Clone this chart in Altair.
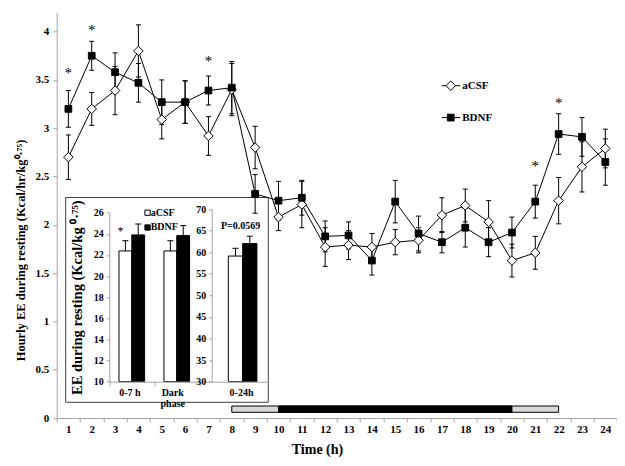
import altair as alt
import pandas as pd

# ---------------- data ----------------
hours = list(range(1, 25))
acsf_mean = [2.70, 3.20, 3.39, 3.80, 3.09, 3.27, 2.92, 3.40, 2.80, 2.08, 2.21, 1.77,
             1.79, 1.77, 1.82, 1.84, 2.10, 2.20, 2.03, 1.63, 1.71, 2.25, 2.60, 2.79]
acsf_se = [0.23, 0.17, 0.25, 0.27, 0.20, 0.22, 0.20, 0.27, 0.22, 0.14, 0.24, 0.20,
           0.15, 0.14, 0.13, 0.13, 0.18, 0.17, 0.22, 0.17, 0.17, 0.24, 0.26, 0.20]
bdnf_mean = [3.20, 3.75, 3.58, 3.47, 3.27, 3.27, 3.39, 3.42, 2.32, 2.25, 2.28, 1.88,
             1.89, 1.63, 2.24, 1.91, 1.82, 1.97, 1.82, 1.92, 2.24, 2.94, 2.91, 2.65]
bdnf_se = [0.19, 0.15, 0.20, 0.20, 0.23, 0.22, 0.15, 0.27, 0.20, 0.20, 0.18, 0.16,
           0.14, 0.15, 0.22, 0.18, 0.11, 0.20, 0.15, 0.16, 0.17, 0.21, 0.20, 0.24]
star_hours = [1, 2, 7, 21, 22]
star_levels = [3.60, 4.05, 3.73, 2.64, 3.29]

light_period = [8, 22]
dark_period = [10, 20]

inset_groups = ["0-7 h", "Dark\nphase"]
inset_acsf = [22.38, 22.38]
inset_acsf_se = [0.97, 0.97]
inset_bdnf = [23.90, 23.83]
inset_bdnf_se = [1.03, 0.95]
total_group = "0-24h"
total_acsf, total_acsf_se = 59.1, 1.8
total_bdnf, total_bdnf_se = 62.0, 1.7
p_text = "P=0.0569"

# ---------------- layout ----------------
FONT = "Liberation Serif"
AX = "#a6a6a6"
W, H = 560.3, 405.7
OX, OY = 56.7, 12.3          # page position of plot origin
PAD = {"left": OX - 8, "top": OY - 8, "right": 0, "bottom": 450 - (OY - 8) - H}


def px(v):
    return v - OX


def py(v):
    return v - OY


def sc(domain, rng):
    return alt.Scale(domain=domain, range=rng, nice=False, zero=False)


MX = sc([0.5, 24.5], [0, W])
MY = sc([0, 4.2], [H, 0])
LX = sc([0, 2.276], [px(109.3), px(211.7)])
LY = sc([10, 26], [py(381.7), py(212.7)])
RX = sc([0, 0.91], [px(211.7), px(268.3)])
RY = sc([30, 70], [py(381.7), py(209.0)])

rows = []
for g, m, s in (("aCSF", acsf_mean, acsf_se), ("BDNF", bdnf_mean, bdnf_se)):
    for h, mv, sv in zip(hours, m, s):
        rows.append(dict(hour=h, group=g, mean=mv, lo=mv - sv, hi=mv + sv))
main = pd.DataFrame(rows)
caps = pd.concat([main.assign(cap=main["lo"]), main.assign(cap=main["hi"])])

is_acsf = "datum.group == 'aCSF'"
fill_c = alt.condition(is_acsf, alt.value("white"), alt.value("black"))

y_axis = alt.Axis(orient="left", values=[i * 0.5 for i in range(9)], format="~g",
                  tickSize=4, domainColor=AX, tickColor=AX, grid=False,
                  labelFont=FONT, labelFontSize=11, labelFontWeight="bold",
                  labelColor="black", labelPadding=4,
                  title="Hourly EE during resting (Kcal/hr/kg⁰·⁷⁵)",
                  titleFont=FONT, titleFontSize=12.5, titleFontWeight="bold",
                  titleColor="black", titleAngle=270, titleAlign="center",
                  titleBaseline="middle", titleX=20 - OX, titleY=250 - OY)
xtick_axis = alt.Axis(orient="bottom", values=[i + 0.5 for i in range(25)],
                      labels=False, tickSize=4, domainColor=AX, tickColor=AX,
                      grid=False, title=None)
xlab_axis = alt.Axis(orient="bottom", values=hours, ticks=False, domain=False,
                     grid=False, labelFont=FONT, labelFontSize=11,
                     labelFontWeight="bold", labelColor="black", labelPadding=5,
                     title="Time (h)", titleFont=FONT, titleFontSize=14,
                     titleFontWeight="bold", titleColor="black",
                     titleX=317 - OX, titleY=35.5, titleAlign="center",
                     titleBaseline="alphabetic")

box = alt.Chart(pd.DataFrame({"k": [0]})).mark_rect(
    fill="white", stroke="#404040", strokeWidth=1).encode(
    x=alt.value(px(65.7)), x2=alt.value(px(268.3)),
    y=alt.value(py(197.5)), y2=alt.value(py(402.3)))

err = alt.Chart(main).mark_rule(color="black", strokeWidth=1).encode(
    x=alt.X("hour:Q", scale=MX, axis=xtick_axis),
    y=alt.Y("lo:Q", scale=MY, axis=y_axis), y2="hi:Q")
cap = alt.Chart(caps).mark_tick(orient="horizontal", size=5, thickness=1,
                                color="black", opacity=1).encode(
    x=alt.X("hour:Q", scale=MX, axis=None),
    y=alt.Y("cap:Q", scale=MY, axis=None))
line = alt.Chart(main).mark_line(color="black", strokeWidth=1).encode(
    x=alt.X("hour:Q", scale=MX, axis=xlab_axis),
    y=alt.Y("mean:Q", scale=MY, axis=None), detail="group:N")
pts = alt.Chart(main).mark_point(filled=True, stroke="black", strokeWidth=1,
                                 opacity=1).encode(
    x=alt.X("hour:Q", scale=MX, axis=None),
    y=alt.Y("mean:Q", scale=MY, axis=None),
    shape=alt.condition(is_acsf, alt.value("diamond"), alt.value("square")),
    size=alt.condition(is_acsf, alt.value(90), alt.value(45)),
    fill=fill_c)

stars = alt.Chart(pd.DataFrame({"hour": star_hours, "lev": star_levels})).mark_text(
    text="*", font=FONT, fontSize=15, baseline="middle", dy=3, color="black").encode(
    x=alt.X("hour:Q", scale=MX, axis=None), y=alt.Y("lev:Q", scale=MY, axis=None))

light = alt.Chart(pd.DataFrame({"s": [light_period[0]], "e": [light_period[1]]})).mark_rect(
    fill="#d9d9d9", stroke="black", strokeWidth=1).encode(
    x=alt.X("s:Q", scale=MX, axis=None), x2="e:Q",
    y=alt.value(py(406)), y2=alt.value(py(412.3)))
dark = alt.Chart(pd.DataFrame({"s": [dark_period[0]], "e": [dark_period[1]]})).mark_rect(
    fill="black", stroke="black", strokeWidth=1).encode(
    x=alt.X("s:Q", scale=MX, axis=None), x2="e:Q",
    y=alt.value(py(406)), y2=alt.value(py(412.3)))

# main legend
leg = pd.DataFrame({"group": ["aCSF", "BDNF"], "ly": [3.44, 3.11],
                    "x0": [16.99, 16.99], "x1": [17.78, 17.78],
                    "xm": [17.38, 17.38], "xt": [17.87, 17.87]})
leg_line = alt.Chart(leg).mark_rule(color="black", strokeWidth=1).encode(
    x=alt.X("x0:Q", scale=MX, axis=None), x2="x1:Q",
    y=alt.Y("ly:Q", scale=MY, axis=None))
leg_pt = alt.Chart(leg).mark_point(filled=True, stroke="black", strokeWidth=1,
                                   opacity=1).encode(
    x=alt.X("xm:Q", scale=MX, axis=None), y=alt.Y("ly:Q", scale=MY, axis=None),
    shape=alt.condition(is_acsf, alt.value("diamond"), alt.value("square")),
    size=alt.condition(is_acsf, alt.value(90), alt.value(45)), fill=fill_c)
leg_txt = alt.Chart(leg).mark_text(font=FONT, fontSize=11, fontWeight="bold",
                                   align="left", baseline="middle",
                                   color="black").encode(
    x=alt.X("xt:Q", scale=MX, axis=None), y=alt.Y("ly:Q", scale=MY, axis=None),
    text="group:N")

# ---------------- inset ----------------
AXB = -(H - py(381.7))
lx_axis = alt.Axis(orient="bottom", offset=AXB, values=[0, 1, 2], labels=False,
                   tickSize=4, domainColor=AX, tickColor=AX, grid=False, title=None,
                   zindex=1)
ly_axis = alt.Axis(orient="left", offset=-px(109.3), values=list(range(10, 27, 2)),
                   tickSize=3, domainColor=AX, tickColor=AX, grid=False,
                   labelFont=FONT, labelFontSize=10, labelFontWeight="bold",
                   labelColor="black", labelPadding=3,
                   title="EE during resting (Kcal/kg ⁰·⁷⁵)", titleFont=FONT,
                   titleFontSize=14.5, titleFontWeight="bold", titleColor="black",
                   titlePadding=9, zindex=1)
rx_axis = alt.Axis(orient="bottom", offset=AXB, ticks=False, labels=False,
                   domainColor=AX, grid=False, title=None, zindex=1)
ry_axis = alt.Axis(orient="left", offset=-px(211.7), values=list(range(30, 71, 5)),
                   tickSize=3, domainColor=AX, tickColor=AX, grid=False,
                   labelFont=FONT, labelFontSize=10, labelFontWeight="bold",
                   labelColor="black", labelPadding=3, title=None, zindex=1)

lrows = []
for i, g in enumerate(inset_groups):
    lrows.append(dict(idx=i, group="aCSF", val=inset_acsf[i], se=inset_acsf_se[i]))
    lrows.append(dict(idx=i, group="BDNF", val=inset_bdnf[i], se=inset_bdnf_se[i]))
ldf = pd.DataFrame(lrows)
ldf["x0"] = ldf["idx"] + ldf["group"].map({"aCSF": 0.215, "BDNF": 0.5})
ldf["x1"] = ldf["x0"] + 0.285
ldf["xm"] = ldf["x0"] + 0.1425
ldf["base"] = 10
ldf["top"] = ldf["val"] + ldf["se"]

rdf = pd.DataFrame({"group": ["aCSF", "BDNF"], "val": [total_acsf, total_bdnf],
                    "se": [total_acsf_se, total_bdnf_se]})
rdf["x0"] = rdf["group"].map({"aCSF": 0.267, "BDNF": 0.498})
rdf["x1"] = rdf["x0"] + 0.229
rdf["xm"] = rdf["x0"] + 0.1145
rdf["base"] = 30
rdf["top"] = rdf["val"] + rdf["se"]

lbar = alt.Chart(ldf).mark_rect(stroke="black", strokeWidth=1).encode(
    x=alt.X("x0:Q", scale=LX, axis=lx_axis), x2="x1:Q",
    y=alt.Y("val:Q", scale=LY, axis=ly_axis), y2="base:Q", fill=fill_c)
lerr = alt.Chart(ldf).mark_rule(color="black", strokeWidth=1).encode(
    x=alt.X("xm:Q", scale=LX, axis=None),
    y=alt.Y("val:Q", scale=LY, axis=None), y2="top:Q")
lcap = alt.Chart(ldf).mark_tick(orient="horizontal", size=6, thickness=1,
                                color="black", opacity=1).encode(
    x=alt.X("xm:Q", scale=LX, axis=None), y=alt.Y("top:Q", scale=LY, axis=None))

rbar = alt.Chart(rdf).mark_rect(stroke="black", strokeWidth=1).encode(
    x=alt.X("x0:Q", scale=RX, axis=rx_axis), x2="x1:Q",
    y=alt.Y("val:Q", scale=RY, axis=ry_axis), y2="base:Q", fill=fill_c)
rerr = alt.Chart(rdf).mark_rule(color="black", strokeWidth=1).encode(
    x=alt.X("xm:Q", scale=RX, axis=None),
    y=alt.Y("val:Q", scale=RY, axis=None), y2="top:Q")
rcap = alt.Chart(rdf).mark_tick(orient="horizontal", size=6, thickness=1,
                                color="black", opacity=1).encode(
    x=alt.X("xm:Q", scale=RX, axis=None), y=alt.Y("top:Q", scale=RY, axis=None))

lx_lab = alt.Chart(pd.DataFrame({"lx": [0.46, 1.41], "txt": inset_groups,
                                 "yb": [10, 10]})).mark_text(
    font=FONT, fontSize=10, fontWeight="bold", baseline="top", dy=6,
    lineBreak="\n", lineHeight=11, color="black").encode(
    x=alt.X("lx:Q", scale=LX, axis=None), y=alt.Y("yb:Q", scale=LY, axis=None),
    text="txt:N")
rx_lab = alt.Chart(pd.DataFrame({"rx": [0.48], "txt": [total_group],
                                 "yb": [30]})).mark_text(
    font=FONT, fontSize=10, fontWeight="bold", baseline="top", dy=6,
    color="black").encode(
    x=alt.X("rx:Q", scale=RX, axis=None), y=alt.Y("yb:Q", scale=RY, axis=None),
    text="txt:N")
p_lab = alt.Chart(pd.DataFrame({"rx": [0.465], "ry": [66.0], "txt": [p_text]})).mark_text(
    font=FONT, fontSize=10, fontWeight="bold", baseline="middle",
    color="black").encode(
    x=alt.X("rx:Q", scale=RX, axis=None), y=alt.Y("ry:Q", scale=RY, axis=None),
    text="txt:N")
l_star = alt.Chart(pd.DataFrame({"lx": [0.25], "ly": [24.43]})).mark_text(
    text="*", font=FONT, fontSize=12, baseline="middle", dy=2, color="black").encode(
    x=alt.X("lx:Q", scale=LX, axis=None), y=alt.Y("ly:Q", scale=LY, axis=None))

ileg = pd.DataFrame({"group": ["aCSF", "BDNF"], "ly": [26.0, 24.6],
                     "xm": [0.85, 0.85], "xt": [0.92, 0.92]})
ileg_pt = alt.Chart(ileg).mark_point(shape="square", size=28, filled=True,
                                     stroke="black", strokeWidth=1, opacity=1).encode(
    x=alt.X("xm:Q", scale=LX, axis=None), y=alt.Y("ly:Q", scale=LY, axis=None),
    fill=fill_c)
ileg_txt = alt.Chart(ileg).mark_text(font=FONT, fontSize=10, fontWeight="bold",
                                     align="left", baseline="middle",
                                     color="black").encode(
    x=alt.X("xt:Q", scale=LX, axis=None), y=alt.Y("ly:Q", scale=LY, axis=None),
    text="group:N")

chart = alt.layer(
    box, light, dark, err, cap, line, pts, stars, leg_line, leg_pt, leg_txt,
    lbar, lerr, lcap, rbar, rerr, rcap, lx_lab, rx_lab, p_lab, l_star,
    ileg_pt, ileg_txt,
).resolve_scale(x="independent", y="independent").properties(
    width=W, height=H, padding=PAD, autosize="none"
).configure_view(stroke=None)

chart.save("out.html", embed_options={"renderer": "svg", "actions": False})
